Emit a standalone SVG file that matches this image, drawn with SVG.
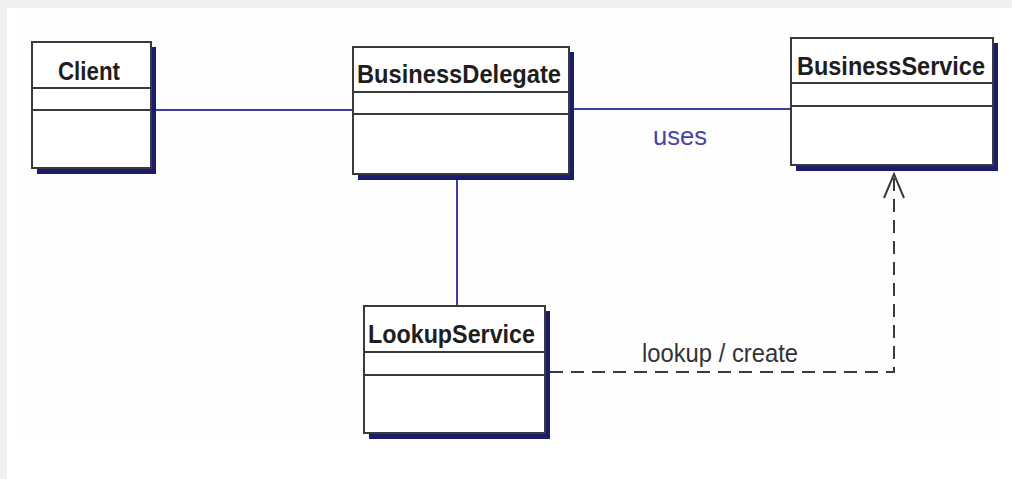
<svg xmlns="http://www.w3.org/2000/svg" width="1012" height="479" viewBox="0 0 1012 479">
<style>
.shadow{fill:#1c1c6e}
.box{fill:#fff;stroke:#3a3a3a;stroke-width:2}
.sep{stroke:#3a3a3a;stroke-width:2}
.title{font-family:"Liberation Sans",Arial,sans-serif;font-weight:bold;font-size:25px;fill:#1e1e1e}
.assoc{stroke:#3d3d9e;stroke-width:2;fill:none}
.dep{stroke:#3a3a3a;stroke-width:2;fill:none;stroke-dasharray:13 8}
.lbl{font-family:"Liberation Sans",Arial,sans-serif;font-size:25px}
</style>
<rect x="0" y="0" width="1012" height="479" fill="#ffffff"/>
<rect x="0" y="0" width="1012" height="8" fill="#efefef"/>
<rect x="0" y="0" width="7" height="479" fill="#efefef"/>
<rect x="20" y="10" width="980" height="428" fill="#fefefe"/>
<g id="connectors">
<line class="assoc" x1="156" y1="110" x2="353" y2="110"/>
<line class="assoc" x1="574" y1="109" x2="791" y2="109"/>
<line class="assoc" x1="457" y1="180" x2="457" y2="306"/>
<polyline class="dep" points="550,372 894,372 894,176"/>
<polyline points="884,198 894,174 904,198" fill="none" stroke="#3a3a3a" stroke-width="2"/>
<text class="lbl" x="653" y="145" fill="#4444a4" textLength="54" lengthAdjust="spacingAndGlyphs">uses</text>
<text class="lbl" x="642" y="362" fill="#333333" textLength="156" lengthAdjust="spacingAndGlyphs">lookup / create</text>
</g>
<g id="client">
<rect class="shadow" x="37" y="47" width="119" height="127"/>
<rect class="box" x="32" y="42" width="119" height="126"/>
<line class="sep" x1="32" y1="88" x2="151" y2="88"/>
<line class="sep" x1="32" y1="110" x2="151" y2="110"/>
<text class="title" x="58" y="80" textLength="62" lengthAdjust="spacingAndGlyphs">Client</text>
</g>
<g id="businessDelegate">
<rect class="shadow" x="358" y="52" width="216" height="128"/>
<rect class="box" x="353" y="47" width="216" height="127"/>
<line class="sep" x1="353" y1="92" x2="569" y2="92"/>
<line class="sep" x1="353" y1="114" x2="569" y2="114"/>
<text class="title" x="357" y="83" textLength="204" lengthAdjust="spacingAndGlyphs">BusinessDelegate</text>
</g>
<g id="businessService">
<rect class="shadow" x="796" y="43" width="202" height="128"/>
<rect class="box" x="791" y="38" width="202" height="127"/>
<line class="sep" x1="791" y1="83" x2="993" y2="83"/>
<line class="sep" x1="791" y1="106" x2="993" y2="106"/>
<text class="title" x="797" y="75" textLength="188" lengthAdjust="spacingAndGlyphs">BusinessService</text>
</g>
<g id="lookupService">
<rect class="shadow" x="369" y="311" width="181" height="128"/>
<rect class="box" x="364" y="306" width="181" height="127"/>
<line class="sep" x1="364" y1="352" x2="545" y2="352"/>
<line class="sep" x1="364" y1="375" x2="545" y2="375"/>
<text class="title" x="368" y="343" textLength="167" lengthAdjust="spacingAndGlyphs">LookupService</text>
</g>
</svg>
